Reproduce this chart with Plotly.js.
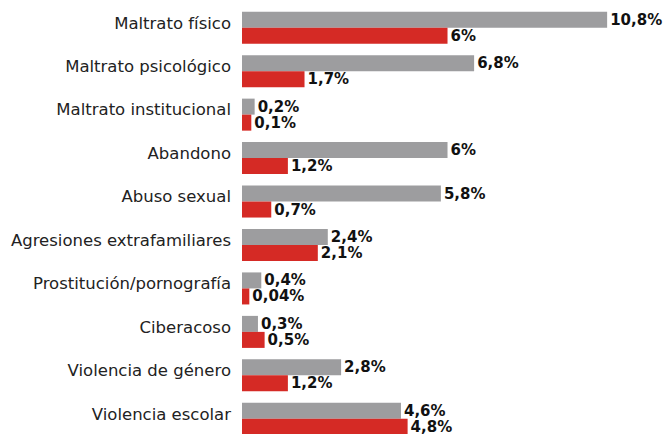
<!DOCTYPE html>
<html>
<head>
<meta charset="utf-8">
<script src="https://cdn.plot.ly/plotly-3.0.1.min.js"></script>
<style>html,body{margin:0;padding:0;background:#fff;}#chart{width:667px;height:434px;}</style>
</head>
<body>
<div id="chart"></div>
<script>
const categories = ["Maltrato físico","Maltrato psicológico","Maltrato institucional","Abandono","Abuso sexual","Agresiones extrafamiliares","Prostitución/pornografía","Ciberacoso","Violencia de género","Violencia escolar"];
const seriesGray = [10.8, 6.8, 0.2, 6, 5.8, 2.4, 0.4, 0.3, 2.8, 4.6];
const seriesRed = [6, 1.7, 0.1, 1.2, 0.7, 2.1, 0.04, 0.5, 1.2, 4.8];

const fmt = v => String(v).replace('.', ',') + '%';
const BASE = -0.18;

function trace(vals, color) {
  return {
    type: 'bar', orientation: 'h',
    y: categories, x: vals.map(v => v - BASE), base: BASE,
    marker: {color: color},
    text: vals.map(fmt), textposition: 'outside', constraintext: 'none',
    cliponaxis: false,
    textfont: {family: 'DejaVu Sans', size: 15, color: '#111', weight: 'bold'},
    hoverinfo: 'skip'
  };
}

const data = [trace(seriesGray, '#9d9d9f'), trace(seriesRed, '#d52a25')];

const layout = {
  width: 667, height: 434,
  margin: {l: 242, r: 0, t: 6, b: 0, pad: 0},
  barmode: 'group', bargap: 0.263, bargroupgap: 0,
  showlegend: false,
  paper_bgcolor: '#fff', plot_bgcolor: '#fff',
  xaxis: {range: [BASE, 12.6], visible: false, fixedrange: true},
  yaxis: {type: 'category', range: [9.35, -0.5], showgrid: false, zeroline: false, showline: false,
          ticks: '', ticklabelstandoff: 10, ticklabelshift: 5,
          tickfont: {family: 'DejaVu Sans', size: 16.5, color: '#222'}},
  font: {family: 'DejaVu Sans'}
};

Plotly.newPlot('chart', data, layout, {displayModeBar: false, staticPlot: true});
</script>
</body>
</html>
